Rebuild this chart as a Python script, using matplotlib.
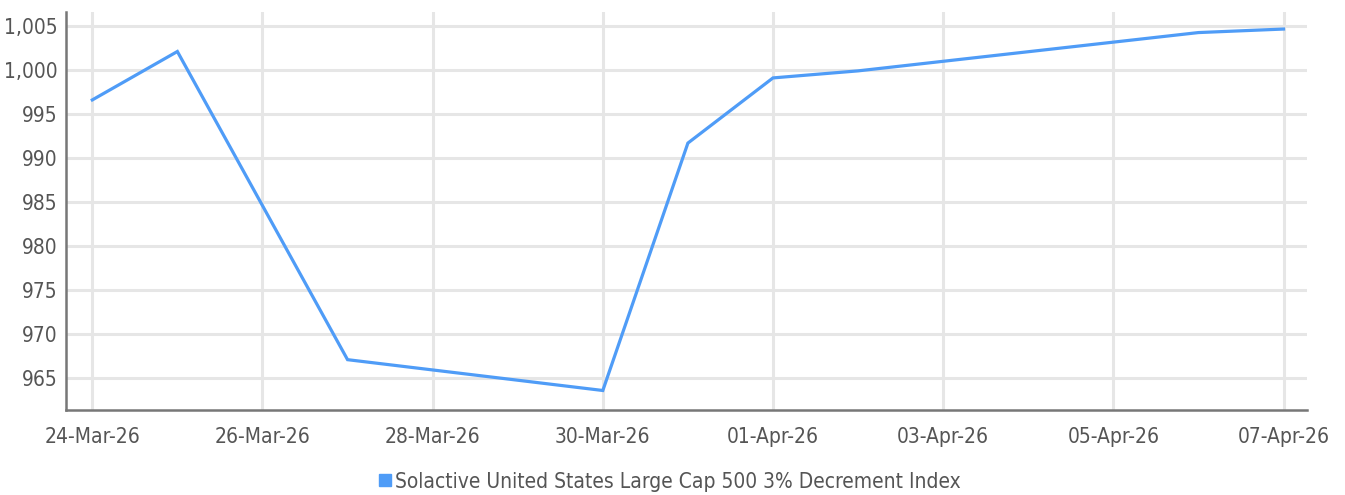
import matplotlib
matplotlib.use("Agg")
import matplotlib.pyplot as plt
import matplotlib.dates as mdates
from matplotlib.lines import Line2D
import numpy as np
import datetime as dt

# data
dates = ["2026-03-24", "2026-03-25", "2026-03-27", "2026-03-30", "2026-03-31",
         "2026-04-01", "2026-04-02", "2026-04-06", "2026-04-07"]
values = [996.6, 1002.1, 967.1, 963.6, 991.7, 999.1, 999.9, 1004.25, 1004.65]
yticks = [965, 970, 975, 980, 985, 990, 995, 1000, 1005]
series_name = "Solactive United States Large Cap 500 3% Decrement Index"

x = [dt.datetime.strptime(d, "%Y-%m-%d") for d in dates]

plt.rcParams['font.family'] = ['DejaVu Sans']
plt.rcParams['font.stretch'] = 'condensed'
line_col = "#4f9cf7"
txt_col = "#555555"

fig = plt.figure(figsize=(13.45, 4.95), dpi=100)
ax = fig.add_axes([0.049, 0.172, 0.923, 0.804])

ax.plot(x, values, color=line_col, lw=2.3, solid_joinstyle="miter")

x0 = dt.datetime(2026, 3, 24)
ax.set_xlim(x0 - dt.timedelta(days=0.31), dt.datetime(2026, 4, 7) + dt.timedelta(days=0.28))
ax.set_ylim(961.4, 1006.6)

xt = [x0 + dt.timedelta(days=2 * i) for i in range(8)]
ax.set_xticks(xt)
ax.xaxis.set_major_formatter(mdates.DateFormatter("%d-%b-%y"))
ax.set_yticks(yticks)
ax.set_yticklabels([f"{v:,}" for v in yticks])

ax.grid(True, color="#e6e6e6", lw=2.2)
ax.set_axisbelow(True)
for s in ["top", "right"]:
    ax.spines[s].set_visible(False)
for s in ["left", "bottom"]:
    ax.spines[s].set_color("#777777")
    ax.spines[s].set_linewidth(1.8)

ax.tick_params(axis="both", length=0, labelsize=15, colors=txt_col)
ax.tick_params(axis="x", pad=12)
ax.tick_params(axis="y", pad=6)

handle = Line2D([], [], ls="none", marker="s", markersize=8, color=line_col)
fig.legend([handle], [series_name], loc="center", bbox_to_anchor=(0.497, 0.027),
           frameon=False, fontsize=15, handletextpad=0.1, handlelength=0.8,
           labelcolor=txt_col)

fig.savefig("out.png", dpi=100)
